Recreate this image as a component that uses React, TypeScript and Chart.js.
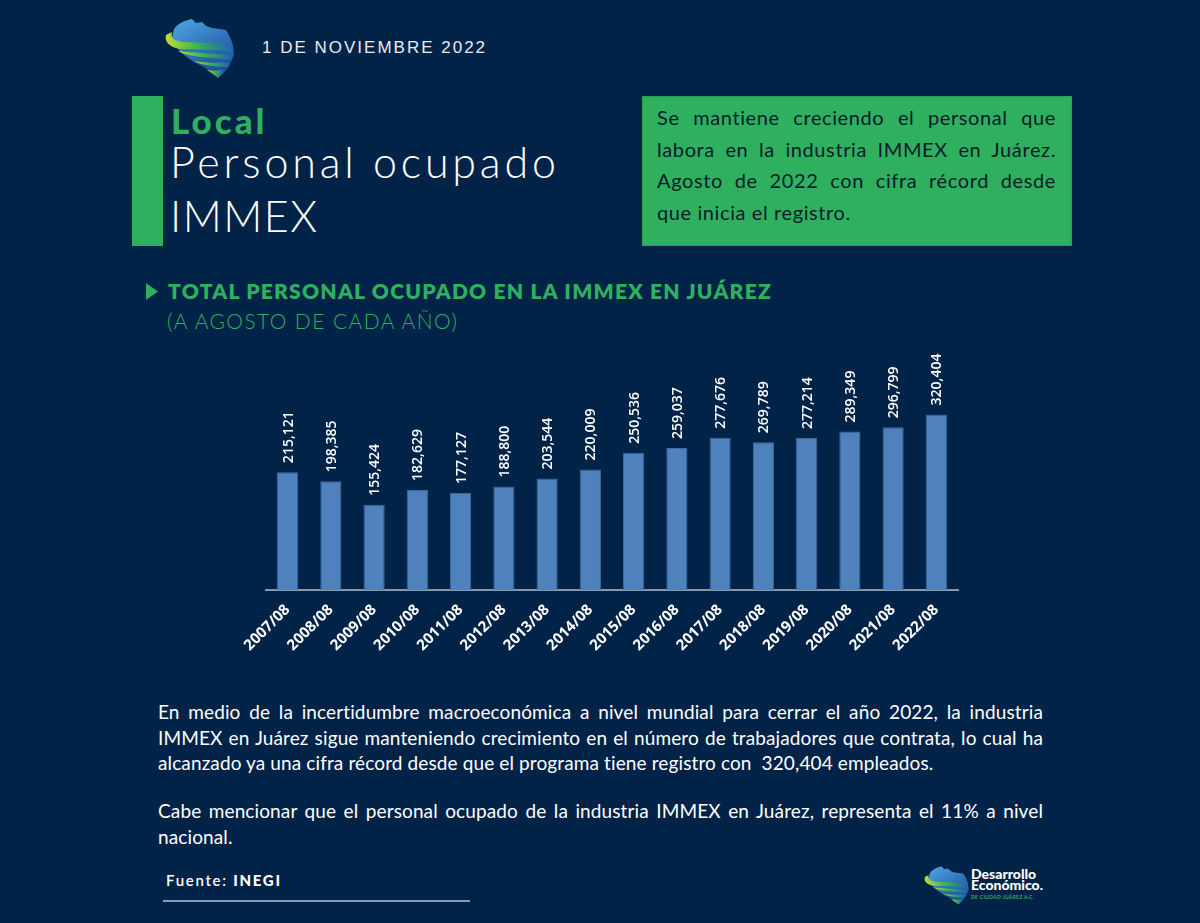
import React, { useEffect, useRef } from "react";
import { Chart, registerables } from "chart.js";

Chart.register(...registerables);

// Personal ocupado en la IMMEX, Ciudad Juárez, a agosto de cada año
const periods = [
  "2007/08", "2008/08", "2009/08", "2010/08", "2011/08", "2012/08", "2013/08", "2014/08",
  "2015/08", "2016/08", "2017/08", "2018/08", "2019/08", "2020/08", "2021/08", "2022/08",
];
const employed = [
  215121, 198385, 155424, 182629, 177127, 188800, 203544, 220009,
  250536, 259037, 277676, 269789, 277214, 289349, 296799, 320404,
];
const yMax = 474500;

const NAVY = "#012348";
const GREEN = "#2eb05e";
const BAR = "#4f81bd";

const summaryLines = [
  "Se mantiene creciendo el personal que",
  "labora en la industria IMMEX en Juárez.",
  "Agosto de 2022 con cifra récord desde",
  "que inicia el registro.",
];
const paragraphOne = [
  "En medio de la incertidumbre macroeconómica a nivel mundial para cerrar el año 2022, la industria",
  "IMMEX en Juárez sigue manteniendo crecimiento en el número de trabajadores que contrata, lo cual ha",
  "alcanzado ya una cifra récord desde que el programa tiene registro con  320,404 empleados.",
];
const paragraphTwo = [
  "Cabe mencionar que el personal ocupado de la industria IMMEX en Juárez, representa el 11% a nivel",
  "nacional.",
];

// Rotated value labels printed above each bar
const valueLabels = {
  id: "valueLabels",
  afterDatasetsDraw(chart: any) {
    const { ctx } = chart;
    const meta = chart.getDatasetMeta(0);
    const values = chart.data.datasets[0].data as number[];
    ctx.save();
    ctx.fillStyle = "#ffffff";
    ctx.font = "600 14px 'Open Sans'";
    ctx.textAlign = "left";
    ctx.textBaseline = "middle";
    meta.data.forEach((bar: any, i: number) => {
      ctx.save();
      ctx.translate(bar.x + 1, bar.y - 9);
      ctx.rotate(-Math.PI / 2);
      ctx.fillText(values[i].toLocaleString("en-US"), 0, 0);
      ctx.restore();
    });
    ctx.restore();
  },
};

function Logo({ left, top, width }: { left: number; top: number; width: number }) {
  const id = `lg${left}`;
  return (
    <svg
      viewBox="0 0 90 70"
      width={width}
      height={(width * 70) / 90}
      style={{ position: "absolute", left, top }}
    >
      <defs>
        <linearGradient id={`${id}b`} x1="0" y1="0" x2="0.6" y2="1">
          <stop offset="0" stopColor="#4fa8e4" />
          <stop offset="1" stopColor="#1a4d9a" />
        </linearGradient>
        <linearGradient id={`${id}g`} x1="0" y1="0" x2="1" y2="0">
          <stop offset="0" stopColor="#c2dc3a" />
          <stop offset="0.45" stopColor="#3cb54a" />
          <stop offset="1" stopColor="#1f64b4" />
        </linearGradient>
      </defs>
      <path
        d="M14 14 C18 8 26 5 32 4 L36 8 L42 7 L46 11 L52 13 L60 14 L66 15 L70 22 L73 30 L74 40 L70 50 L64 58 L58 63 L52 58 L44 52 L34 47 L24 40 L16 32 L12 22 Z"
        fill={`url(#${id}b)`}
      />
      <path d="M14 27 C30 30 55 28 73 33 L73 36 C55 32 30 34 16 31 Z" fill="#16407f" />
      <path
        d="M6 20 C4 27 10 33 22 34 C40 35 60 33 73 39 L73 32 C60 27 40 28 24 27 C14 26 10 23 12 17 Z"
        fill={`url(#${id}g)`}
      />
      <path d="M18 36 C26 41 42 42 72 45 L71 40 C50 38 32 38 18 36 Z" fill={`url(#${id}g)`} />
      <path d="M34 46 C42 50 56 52 68 52 L69 47 C56 48 44 48 34 46 Z" fill={`url(#${id}g)`} />
      <path d="M47 55 C52 58 56 61 58 63 C61 60 63 57 64 54 C58 56 52 56 47 55 Z" fill={`url(#${id}g)`} />
    </svg>
  );
}

function Lines({
  lines,
  left,
  top,
  width,
  size,
  lineHeight,
  color,
  spacing = 0,
}: {
  lines: string[];
  left: number;
  top: number;
  width: number;
  size: number;
  lineHeight: number;
  color: string;
  spacing?: number;
}) {
  return (
    <div
      style={{
        position: "absolute",
        left,
        top,
        width,
        fontFamily: "Lato",
        fontSize: size,
        color,
        letterSpacing: spacing,
      }}
    >
      {lines.map((line, i) => {
        const last = i === lines.length - 1;
        return (
          <div
            key={i}
            style={{
              height: lineHeight,
              lineHeight: `${lineHeight}px`,
              whiteSpace: "pre",
              textAlign: last ? "left" : "justify",
              textAlignLast: last ? "left" : "justify",
            }}
          >
            {line}
          </div>
        );
      })}
    </div>
  );
}

export default function App() {
  const canvasRef = useRef<HTMLCanvasElement | null>(null);

  useEffect(() => {
    document.body.style.margin = "0";
    document.body.style.background = NAVY;
    const canvas = canvasRef.current;
    if (!canvas) return;
    const chart = new Chart(canvas, {
      type: "bar",
      data: {
        labels: periods,
        datasets: [
          {
            data: employed,
            backgroundColor: BAR,
            borderColor: "#3b6aa3",
            borderWidth: 1,
            barPercentage: 0.49,
            categoryPercentage: 1,
          },
        ],
      },
      options: {
        animation: false,
        responsive: false,
        maintainAspectRatio: false,
        layout: { padding: { left: 60, right: 10, top: 0, bottom: 0 } },
        plugins: { legend: { display: false }, tooltip: { enabled: false } },
        scales: {
          x: {
            grid: { display: false, drawTicks: false },
            border: { display: true, color: "#8797ad", width: 2 },
            ticks: {
              color: "#ffffff",
              font: { family: "Open Sans", weight: "bold", size: 15 },
              minRotation: 45,
              maxRotation: 45,
              padding: 11,
              autoSkip: false,
            },
            afterFit: (scale: any) => {
              scale.height = 80;
            },
          },
          y: { display: false, min: 0, max: yMax },
        },
      },
      plugins: [valueLabels],
    });
    return () => chart.destroy();
  }, []);

  return (
    <div
      style={{
        position: "absolute",
        left: 0,
        top: 0,
        width: 1200,
        height: 923,
        background: NAVY,
        overflow: "hidden",
        fontFamily: "Lato",
      }}
    >
      <Logo left={160} top={15} width={90} />
      <div
        style={{
          position: "absolute",
          left: 262,
          top: 38,
          fontFamily: "'Liberation Sans'",
          fontSize: 17,
          lineHeight: "20px",
          letterSpacing: 2,
          color: "#e8ebf0",
          whiteSpace: "nowrap",
        }}
      >
        1 DE NOVIEMBRE 2022
      </div>

      <div style={{ position: "absolute", left: 132, top: 96, width: 31, height: 150, background: GREEN }} />
      <div
        style={{
          position: "absolute",
          left: 171,
          top: 103,
          fontSize: 35,
          lineHeight: "35px",
          fontWeight: 900,
          color: GREEN,
          letterSpacing: 3,
        }}
      >
        Local
      </div>
      <div
        style={{
          position: "absolute",
          left: 170,
          top: 135,
          fontSize: 43,
          lineHeight: "54px",
          fontWeight: 300,
          color: "#ffffff",
          whiteSpace: "nowrap",
        }}
      >
        <div style={{ letterSpacing: 3.8 }}>Personal ocupado</div>
        <div style={{ letterSpacing: 1.5 }}>IMMEX</div>
      </div>

      <div
        style={{
          position: "absolute",
          left: 642,
          top: 96,
          width: 430,
          height: 150,
          background: GREEN,
          boxSizing: "border-box",
          border: "1px solid #27a052",
        }}
      />
      <Lines
        lines={summaryLines}
        left={657}
        top={102}
        width={399}
        size={20}
        lineHeight={31.7}
        color="#0c1b2c"
        spacing={0.6}
      />

      <svg width="14" height="18" style={{ position: "absolute", left: 145, top: 283 }}>
        <polygon points="1,0 13,8.5 1,17" fill={GREEN} />
      </svg>
      <div
        style={{
          position: "absolute",
          left: 168,
          top: 278,
          fontSize: 21,
          lineHeight: "25px",
          fontWeight: 800,
          color: GREEN,
          letterSpacing: 1.25,
          whiteSpace: "nowrap",
        }}
      >
        TOTAL PERSONAL OCUPADO EN LA IMMEX EN JUÁREZ
      </div>
      <div
        style={{
          position: "absolute",
          left: 167,
          top: 308,
          fontSize: 21,
          lineHeight: "25px",
          fontWeight: 300,
          color: GREEN,
          letterSpacing: 1.4,
          whiteSpace: "nowrap",
        }}
      >
        (A AGOSTO DE CADA AÑO)
      </div>

      <canvas
        ref={canvasRef}
        width={762}
        height={340}
        style={{ position: "absolute", left: 206, top: 330, width: 762, height: 340 }}
      />

      <Lines lines={paragraphOne} left={158} top={699} width={885} size={19} lineHeight={25.5} color="#ffffff" spacing={0.12} />
      <Lines lines={paragraphTwo} left={158} top={798} width={885} size={19} lineHeight={25.5} color="#ffffff" spacing={0.12} />

      <div
        style={{
          position: "absolute",
          left: 166,
          top: 871,
          fontSize: 15,
          lineHeight: "18px",
          fontWeight: 600,
          letterSpacing: 1.7,
          color: "#ffffff",
          whiteSpace: "nowrap",
        }}
      >
        Fuente: <span style={{ fontWeight: 900 }}>INEGI</span>
      </div>
      <div style={{ position: "absolute", left: 163, top: 900, width: 307, height: 2, background: "#8c9aae" }} />

      <Logo left={921} top={864} width={58} />
      <div
        style={{
          position: "absolute",
          left: 971,
          top: 868,
          fontSize: 14,
          lineHeight: "11px",
          fontWeight: 900,
          color: "#ffffff",
          whiteSpace: "nowrap",
        }}
      >
        <div>Desarrollo</div>
        <div>Económico.</div>
      </div>
      <div
        style={{
          position: "absolute",
          left: 971,
          top: 894,
          fontSize: 5,
          lineHeight: "6px",
          fontWeight: 700,
          color: GREEN,
          whiteSpace: "nowrap",
          letterSpacing: 0.3,
        }}
      >
        DE CIUDAD JUÁREZ A.C.
      </div>
    </div>
  );
}
